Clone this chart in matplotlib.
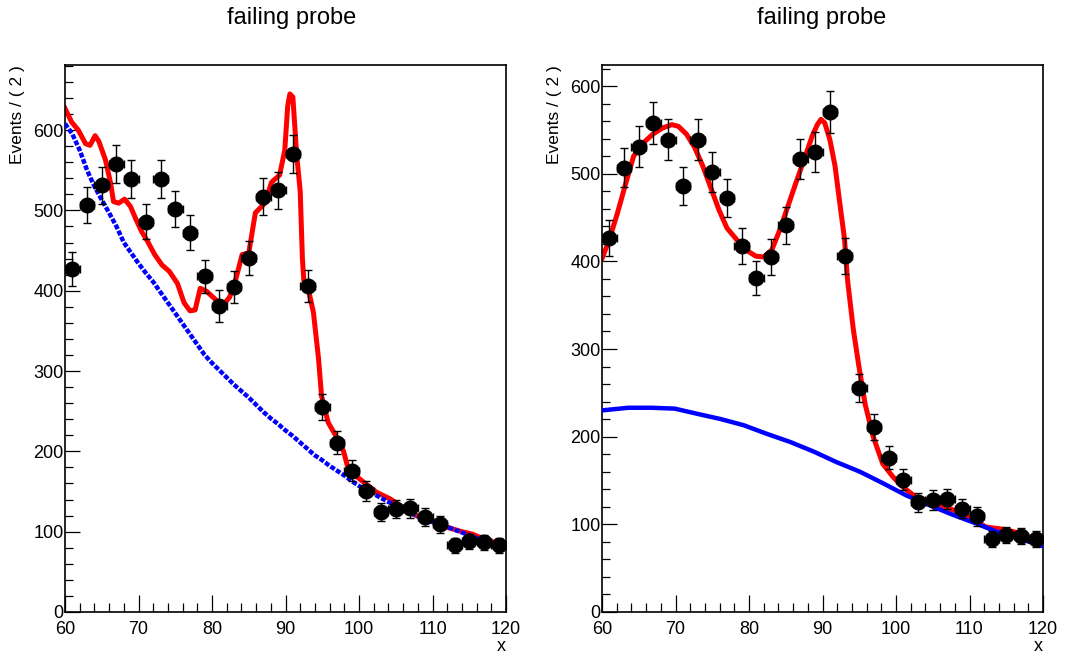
import numpy as np
import matplotlib
matplotlib.use("Agg")
import matplotlib.pyplot as plt
from matplotlib.ticker import MultipleLocator

plt.rcParams["font.family"] = ["Liberation Sans", "DejaVu Sans"]

# binned data (same histogram in both pads), bin width 2
x_bins = [61, 63, 65, 67, 69, 71, 73, 75, 77, 79, 81, 83, 85, 87, 89,
          91, 93, 95, 97, 99, 101, 103, 105, 107, 109, 111, 113, 115, 117, 119]
counts = [427, 507, 531, 558, 539, 486, 539, 502, 472, 418, 381, 405, 441, 517, 525,
          570, 406, 255, 211, 176, 151, 125, 128, 129, 118, 109, 83, 88, 87, 83]

# left pad: total fit (red) and background component (blue)
left_fit_x = [60.0, 60.9, 61.8, 62.8, 63.4, 64.1, 64.6, 65.5, 66.2, 66.6, 67.3, 68.1,
              68.9, 69.6, 70.4, 71.2, 72.2, 73.2, 74.2, 75.3, 76.2, 77.0, 77.7, 78.4,
              79.3, 80.6, 81.5, 82.4, 83.2, 84.1, 85.0, 85.9, 87.2, 88.1, 89.2, 89.9,
              90.3, 90.6, 91.0, 91.3, 91.5, 92.0, 92.3, 92.5, 93.1, 93.8, 94.5, 94.9,
              95.8, 97.0, 97.9, 98.6, 99.9, 101.0, 102.4, 104.2, 106.0, 107.8, 110.0,
              111.8, 114.0, 115.4, 117.2, 120.0]
left_fit_y = [627, 610, 600, 583, 581, 593, 586, 563, 534, 511, 509, 514,
              505, 490, 474, 462, 445, 432, 424, 409, 385, 375, 376, 403,
              399, 388, 382, 392, 413, 445, 447, 497, 509, 535, 544, 575,
              630, 645, 641, 600, 571, 524, 440, 412, 402, 373, 315, 269,
              236, 217, 200, 176, 167, 159, 149, 141, 130, 120, 114,
              106, 100, 97, 90, 83]
left_bkg_x = [60, 61, 62, 63, 64, 65, 66, 67, 68, 69, 70, 71, 72, 73, 74, 75, 76, 77,
              78, 79, 80, 81, 82, 83, 84, 85, 86, 87, 88, 89, 90, 91, 92, 93, 94, 95,
              96, 97, 98, 99, 100, 102, 104, 106, 108, 110, 112, 114, 116, 118, 120]
left_bkg_y = [608, 595, 575, 550, 530, 513, 497, 480, 460, 447, 434, 422, 411, 398,
              385, 372, 359, 346, 333, 320, 310, 301, 292, 283, 275, 267, 258, 249,
              241, 234, 226, 219, 211, 203, 195, 189, 182, 176, 170, 163, 157, 147,
              137, 128, 119, 112, 106, 99, 92, 87, 81]

# right pad
right_fit_x = [60.0, 61.0, 62.1, 63.2, 64.3, 65.6, 66.9, 68.2, 69.5, 70.4, 71.5, 72.6,
               73.7, 74.8, 75.9, 77.0, 78.3, 79.6, 80.9, 82.0, 83.1, 84.2, 85.3, 86.4,
               87.5, 88.6, 89.3, 89.8, 90.3, 91.0, 91.7, 92.3, 93.0, 93.4, 94.2, 94.9,
               95.8, 96.9, 98.2, 99.6, 100.9, 102.7, 105.0, 107.3, 110.0, 112.2, 114.9,
               117.6, 120.0]
right_fit_y = [403, 425, 455, 488, 520, 535, 545, 552, 556, 554, 545, 530,
               509, 484, 459, 438, 425, 413, 406, 405, 413, 436, 463, 490,
               516, 543, 556, 562, 558, 539, 509, 470, 425, 379, 322, 283,
               237, 200, 169, 154, 143, 131, 126, 118, 109, 97, 94,
               88, 77]
right_bkg_x = [60.0, 63.6, 66.7, 69.9, 73.0, 76.2, 79.3, 82.5, 85.6, 88.8, 91.9, 95.1,
               98.2, 101.4, 104.5, 107.7, 110.9, 113.6, 116.7, 120.0]
right_bkg_y = [230, 233, 233, 232, 226, 220, 213, 203, 194, 183, 171, 160,
               147, 133, 122, 111, 101, 92, 84, 75]

titles = ["failing probe", "failing probe"]
y_tops = [681, 624]

fig = plt.figure(figsize=(10.8, 6.6), dpi=100)
ax_l = fig.add_axes([65 / 1080, 48 / 660, 441 / 1080, 547 / 660])
ax_r = fig.add_axes([602 / 1080, 48 / 660, 441 / 1080, 547 / 660])

pads = [
    (ax_l, left_fit_x, left_fit_y, left_bkg_x, left_bkg_y, (0, (1.1, 0.4))),
    (ax_r, right_fit_x, right_fit_y, right_bkg_x, right_bkg_y, "-"),
]

errs = np.sqrt(counts)
for i, (ax, fx, fy, bx, by, bstyle) in enumerate(pads):
    ax.plot(fx, fy, color="#ff0000", lw=3.6, solid_joinstyle="round", zorder=2)
    ax.plot(bx, by, color="#0000ff", lw=3.2, ls=bstyle, dash_capstyle="butt", zorder=3)
    ax.errorbar(x_bins, counts, yerr=errs, xerr=1, fmt="o", color="black",
                ms=10.5, elinewidth=1.0, capsize=3.2, capthick=1.0, zorder=4)

    ax.set_xlim(60, 120)
    ax.set_ylim(0, y_tops[i])
    ax.xaxis.set_major_locator(MultipleLocator(10))
    ax.xaxis.set_minor_locator(MultipleLocator(2))
    ax.yaxis.set_major_locator(MultipleLocator(100))
    ax.yaxis.set_minor_locator(MultipleLocator(20))
    ax.tick_params(which="both", direction="in", top=False, right=False,
                   labelsize=13, width=0.9)
    ax.tick_params(axis="y", which="major", length=11, pad=1)
    ax.tick_params(axis="y", which="minor", length=6)
    ax.tick_params(axis="x", which="major", length=12, pad=6.5)
    ax.tick_params(axis="x", which="minor", length=6.5)
    for sp in ax.spines.values():
        sp.set_linewidth(1.2)

    ax.set_ylabel("Events / ( 2 )", fontsize=12.5, loc="top", labelpad=6)
    ax.set_xlabel("x", fontsize=13, loc="right", labelpad=0)

fig.text(292 / 1080, 1 - 18 / 660, titles[0], ha="center", va="center", fontsize=17)
fig.text(822 / 1080, 1 - 18 / 660, titles[1], ha="center", va="center", fontsize=17)

fig.savefig("out.png", dpi=100)
